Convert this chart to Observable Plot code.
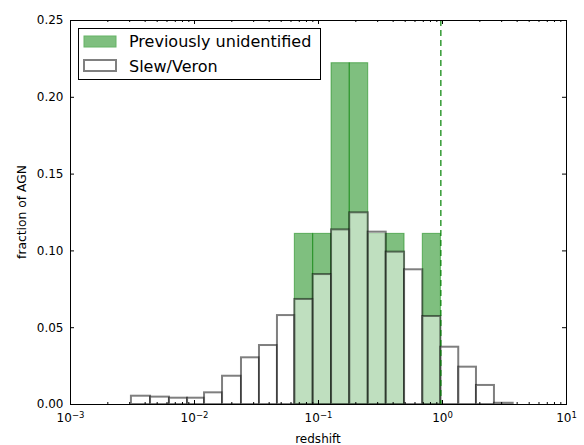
<!DOCTYPE html>
<html>
<head>
<meta charset="utf-8">
<script src="https://cdn.jsdelivr.net/npm/d3@7"></script>
<script src="https://cdn.jsdelivr.net/npm/@observablehq/plot@0.6"></script>
<style>
  html, body { margin: 0; padding: 0; background: #fff; }
  #chart svg { display: block; }
</style>
</head>
<body>
<div id="chart"></div>
<script>
// Bin edges in redshift (log-spaced bins)
const binEdges = [0.00310, 0.00442, 0.00628, 0.00879, 0.01205, 0.01683, 0.02393, 0.03342,
  0.04667, 0.06442, 0.09057, 0.1274, 0.1786, 0.2518, 0.3516, 0.4943, 0.6934, 0.97,
  1.352, 1.879, 2.624, 3.715];
// Fraction of AGN per bin: Slew/Veron
const slewVeron = [0.0054, 0.0048, 0.0041, 0.0041, 0.0076, 0.0184, 0.0304, 0.0384, 0.0579,
  0.0684, 0.0846, 0.1137, 0.1248, 0.1122, 0.0992, 0.0877, 0.0573, 0.0373, 0.0243, 0.0124, 0.0008];
// Fraction of AGN per bin: Previously unidentified
const prevUnidentified = [0, 0, 0, 0, 0, 0, 0, 0, 0,
  0.1111, 0.1111, 0.2222, 0.2222, 0.1111, 0.1111, 0, 0.1111, 0, 0, 0, 0];
const redshiftLimit = 0.97;

const xMajor = [1e-3, 1e-2, 1e-1, 1, 10];
const xMinor = [];
for (let e = -3; e < 1; e++) for (let k = 2; k <= 9; k++) xMinor.push(k * Math.pow(10, e));
const yTicks = [0, 0.05, 0.10, 0.15, 0.20, 0.25];
const seriesNames = ["Previously unidentified", "Slew/Veron"];

const W = 584, H = 445;
const mL = 70, mR = 18, mT = 20, mB = 41;
const innerW = W - mL - mR, innerH = H - mT - mB;

const slewBins = slewVeron.map((v, i) => ({x1: binEdges[i], x2: binEdges[i + 1], v}));
const newBins = prevUnidentified.map((v, i) => ({x1: binEdges[i], x2: binEdges[i + 1], v})).filter(d => d.v > 0);

const chart = Plot.plot({
  width: W, height: H,
  marginLeft: mL, marginRight: mR, marginTop: mT, marginBottom: mB,
  style: {fontFamily: "DejaVu Sans", fontSize: "12px", background: "#fff", color: "#000"},
  x: {type: "log", domain: [1e-3, 10]},
  y: {domain: [0, 0.25]},
  marks: [
    Plot.rect(newBins, {x1: "x1", x2: "x2", y1: 0, y2: "v", fill: "#008000", fillOpacity: 0.5,
      stroke: "#008000", strokeOpacity: 0.5, strokeWidth: 1}),
    Plot.rect(slewBins, {x1: "x1", x2: "x2", y1: 0, y2: "v", fill: "#fff", fillOpacity: 0.5,
      stroke: "#000", strokeOpacity: 0.5, strokeWidth: 2}),
    Plot.ruleX([redshiftLimit], {stroke: "#008000", strokeWidth: 1.2, strokeDasharray: "6,4"}),
    // inward ticks on all four sides
    Plot.tickX(xMajor, {x: d => d, insetTop: innerH - 4, stroke: "#000"}),
    Plot.tickX(xMajor, {x: d => d, insetBottom: innerH - 4, stroke: "#000"}),
    Plot.tickX(xMinor, {x: d => d, insetTop: innerH - 2, stroke: "#000"}),
    Plot.tickX(xMinor, {x: d => d, insetBottom: innerH - 2, stroke: "#000"}),
    Plot.tickY(yTicks, {y: d => d, insetRight: innerW - 4, stroke: "#000"}),
    Plot.tickY(yTicks, {y: d => d, insetLeft: innerW - 4, stroke: "#000"}),
    Plot.frame({stroke: "#000"}),
    Plot.axisX({ticks: xMajor, tickSize: 0, tickPadding: 9, label: null,
      tickFormat: d => "10^" + Math.round(Math.log10(d))}),
    Plot.axisY({ticks: yTicks, tickSize: 0, tickPadding: 7, label: null,
      tickFormat: d => d.toFixed(2)})
  ]
});

document.getElementById("chart").appendChild(chart);

const svg = d3.select(chart);
// superscript exponents on x tick labels
svg.selectAll('g[aria-label="x-axis tick label"] text').each(function() {
  const t = this.textContent;
  const m = t.match(/^10\^(-?\d+)$/);
  if (!m) return;
  const sel = d3.select(this);
  sel.text(null);
  sel.append("tspan").text("10");
  sel.append("tspan").attr("dy", "-0.45em").attr("font-size", "8.5px")
    .text(m[1].replace("-", "\u2212"));
});

// axis titles
svg.append("text").attr("x", mL + innerW / 2).attr("y", 443)
  .attr("text-anchor", "middle").attr("font-size", "12px").attr("fill", "#000").text("redshift");
svg.append("text").attr("transform", `translate(26,${mT + innerH / 2}) rotate(-90)`)
  .attr("text-anchor", "middle").attr("font-size", "12.3px").attr("fill", "#000").text("fraction of AGN");

// legend
const lg = svg.append("g").attr("font-size", "16px").attr("text-anchor", "start");
lg.append("rect").attr("x", 78.5).attr("y", 28.5).attr("width", 242).attr("height", 51)
  .attr("fill", "#fff").attr("stroke", "#000").attr("stroke-width", 1);
lg.append("rect").attr("x", 84).attr("y", 36).attr("width", 32).attr("height", 11)
  .attr("fill", "#7fbf7f").attr("stroke", "#66b366").attr("stroke-width", 1);
lg.append("rect").attr("x", 84).attr("y", 60).attr("width", 32).attr("height", 11)
  .attr("fill", "#fff").attr("stroke", "#808080").attr("stroke-width", 2);
lg.append("text").attr("x", 129).attr("y", 47).attr("fill", "#000").attr("text-anchor", "start").text(seriesNames[0]);
lg.append("text").attr("x", 129).attr("y", 71.5).attr("fill", "#000").attr("text-anchor", "start").text(seriesNames[1]);
</script>
</body>
</html>
